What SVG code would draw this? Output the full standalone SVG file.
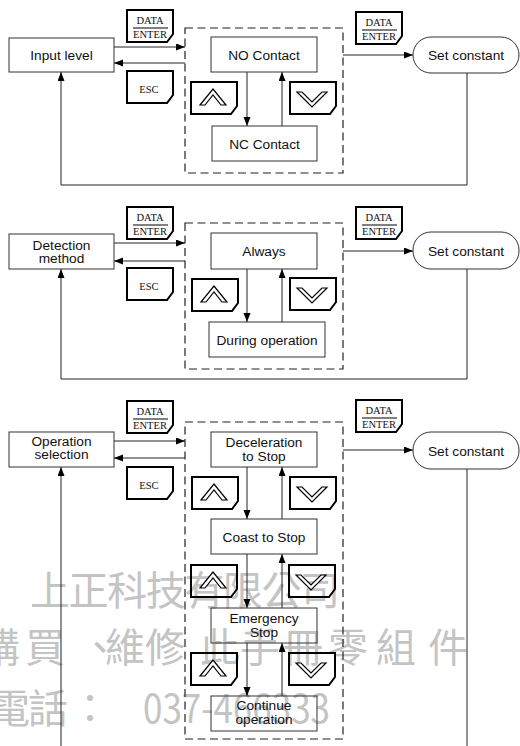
<svg xmlns="http://www.w3.org/2000/svg" xmlns:xlink="http://www.w3.org/1999/xlink" width="520" height="746" viewBox="0 0 520 746">
<style>
.box{fill:none;stroke:#333;stroke-width:1}
.dash{fill:none;stroke:#222;stroke-width:1.2;stroke-dasharray:8 4.5}
.key{fill:none;stroke:#000;stroke-width:2;stroke-linejoin:miter}
.chev{fill:#fff;stroke:#000;stroke-width:1.2;stroke-linejoin:miter}
.lbl{font-family:"Liberation Sans",Arial,sans-serif;font-size:13.7px;fill:#111;text-anchor:middle}
.kt{font-family:"Liberation Serif","Times New Roman",serif;font-size:10.5px;fill:#111;text-anchor:middle}
.conn{fill:none;stroke:#222;stroke-width:1}
.wm{font-family:"Noto Sans CJK TC","Noto Sans CJK SC",sans-serif;font-size:40px;fill:#c4c4c4}
</style>
<defs>
<marker id="ah" markerWidth="10" markerHeight="8" refX="9" refY="3.5" orient="auto" markerUnits="userSpaceOnUse">
<path d="M0,0L9,3.5L0,7Z" fill="#000"/>
</marker>
<path id="keyshape" d="M0,0H46V24L40,32H0Z"/>
<polygon id="upchev" points="9,23 22,7 35,23 30,23 22,13 14,23"/>
<polygon id="dnchev" points="7,10 22,25 37,10 32,10 22,20 12,10"/>
</defs>

<g id="watermark">
<text class="wm" x="30" y="605" textLength="310" lengthAdjust="spacing">上正科技有限公司</text>
<text class="wm" y="662"><tspan x="-20">購</tspan><tspan x="25">買</tspan><tspan x="80">、</tspan><tspan x="105">維</tspan><tspan x="145">修</tspan><tspan x="200">此</tspan><tspan x="240">手</tspan><tspan x="283">冊</tspan><tspan x="328">零</tspan><tspan x="376">組</tspan><tspan x="428">件</tspan></text>
<text class="wm" y="723"><tspan x="-10">電</tspan><tspan x="28">話</tspan><tspan x="70">：</tspan><tspan x="143" textLength="187" lengthAdjust="spacingAndGlyphs">037-466333</tspan></text>
</g>

<g id="connectors">
<!-- section 1 -->
<line class="conn" x1="114" y1="47" x2="185" y2="47" marker-end="url(#ah)"/>
<line class="conn" x1="185" y1="63" x2="114" y2="63" marker-end="url(#ah)"/>
<line class="conn" x1="247" y1="72" x2="247" y2="126" marker-end="url(#ah)"/>
<line class="conn" x1="282" y1="126" x2="282" y2="72" marker-end="url(#ah)"/>
<line class="conn" x1="343" y1="55" x2="413" y2="55" marker-end="url(#ah)"/>
<polyline class="conn" points="467,73 467,185 61,185 61,72" marker-end="url(#ah)"/>
<!-- section 2 -->
<line class="conn" x1="114" y1="243" x2="185" y2="243" marker-end="url(#ah)"/>
<line class="conn" x1="185" y1="261" x2="114" y2="261" marker-end="url(#ah)"/>
<line class="conn" x1="247" y1="269" x2="247" y2="322" marker-end="url(#ah)"/>
<line class="conn" x1="282" y1="322" x2="282" y2="269" marker-end="url(#ah)"/>
<line class="conn" x1="343" y1="251" x2="413" y2="251" marker-end="url(#ah)"/>
<polyline class="conn" points="467,269 467,379 61,379 61,269" marker-end="url(#ah)"/>
<!-- section 3 -->
<line class="conn" x1="114" y1="441" x2="185" y2="441" marker-end="url(#ah)"/>
<line class="conn" x1="185" y1="458" x2="114" y2="458" marker-end="url(#ah)"/>
<line class="conn" x1="247" y1="467" x2="247" y2="519" marker-end="url(#ah)"/>
<line class="conn" x1="282" y1="519" x2="282" y2="467" marker-end="url(#ah)"/>
<line class="conn" x1="247" y1="554" x2="247" y2="608" marker-end="url(#ah)"/>
<line class="conn" x1="282" y1="608" x2="282" y2="554" marker-end="url(#ah)"/>
<line class="conn" x1="247" y1="643" x2="247" y2="696" marker-end="url(#ah)"/>
<line class="conn" x1="282" y1="696" x2="282" y2="643" marker-end="url(#ah)"/>
<line class="conn" x1="343" y1="450" x2="413" y2="450" marker-end="url(#ah)"/>
<line class="conn" x1="467" y1="469" x2="467" y2="746"/>
<line class="conn" x1="61" y1="746" x2="61" y2="467" marker-end="url(#ah)"/>
</g>

<!-- ===== Section 1 ===== -->
<g id="input-level"><rect class="box" x="9" y="38" width="105" height="34"/><text class="lbl" x="61.5" y="60">Input level</text></g>
<g id="group1"><rect class="dash" x="185" y="28" width="158" height="145"/></g>
<g id="no-contact"><rect class="box" x="211" y="37" width="106" height="35"/><text class="lbl" x="264" y="59.5">NO Contact</text></g>
<g id="nc-contact"><rect class="box" x="212" y="126" width="105" height="35"/><text class="lbl" x="264.5" y="148.5">NC Contact</text></g>
<g id="set-constant-1"><rect class="box" x="413" y="37" width="106" height="36" rx="18" ry="18"/><text class="lbl" x="466" y="60">Set constant</text></g>
<g id="key-data-1a"><use href="#keyshape" class="key" x="127" y="10"/><text class="kt" x="150" y="24">DATA</text><line x1="133" y1="28" x2="168" y2="28" stroke="#000" stroke-width="1"/><text class="kt" x="150" y="38">ENTER</text></g>
<g id="key-esc-1"><use href="#keyshape" class="key" x="127" y="71"/><text class="kt" x="149" y="93">ESC</text></g>
<g id="key-up-1"><use href="#keyshape" class="key" x="191" y="82"/><use href="#upchev" class="chev" x="191" y="82"/></g>
<g id="key-down-1"><use href="#keyshape" class="key" x="290" y="82"/><use href="#dnchev" class="chev" x="290" y="82"/></g>
<g id="key-data-1b"><use href="#keyshape" class="key" x="356" y="12"/><text class="kt" x="379" y="26">DATA</text><line x1="362" y1="30" x2="397" y2="30" stroke="#000" stroke-width="1"/><text class="kt" x="379" y="40">ENTER</text></g>

<!-- ===== Section 2 ===== -->
<g id="detection-method"><rect class="box" x="9" y="234" width="105" height="35"/><text class="lbl" x="61.5" y="250">Detection</text><text class="lbl" x="61.5" y="263">method</text></g>
<g id="group2"><rect class="dash" x="185" y="223" width="158" height="146"/></g>
<g id="always"><rect class="box" x="211" y="233" width="106" height="36"/><text class="lbl" x="264" y="256">Always</text></g>
<g id="during-operation"><rect class="box" x="209" y="322" width="116" height="35"/><text class="lbl" x="267" y="344.5">During operation</text></g>
<g id="set-constant-2"><rect class="box" x="413" y="232" width="106" height="37" rx="18" ry="18"/><text class="lbl" x="466" y="255.5">Set constant</text></g>
<g id="key-data-2a"><use href="#keyshape" class="key" x="127" y="207"/><text class="kt" x="150" y="221">DATA</text><line x1="133" y1="225" x2="168" y2="225" stroke="#000" stroke-width="1"/><text class="kt" x="150" y="235">ENTER</text></g>
<g id="key-esc-2"><use href="#keyshape" class="key" x="127" y="268"/><text class="kt" x="149" y="290">ESC</text></g>
<g id="key-up-2"><use href="#keyshape" class="key" x="192" y="279"/><use href="#upchev" class="chev" x="192" y="279"/></g>
<g id="key-down-2"><use href="#keyshape" class="key" x="290" y="278"/><use href="#dnchev" class="chev" x="290" y="278"/></g>
<g id="key-data-2b"><use href="#keyshape" class="key" x="356" y="207"/><text class="kt" x="379" y="221">DATA</text><line x1="362" y1="225" x2="397" y2="225" stroke="#000" stroke-width="1"/><text class="kt" x="379" y="235">ENTER</text></g>

<!-- ===== Section 3 ===== -->
<g id="operation-selection"><rect class="box" x="9" y="432" width="105" height="35"/><text class="lbl" x="61.5" y="446">Operation</text><text class="lbl" x="61.5" y="459">selection</text></g>
<g id="group3"><rect class="dash" x="185" y="422" width="158" height="317"/></g>
<g id="deceleration"><rect class="box" x="211" y="432" width="106" height="35"/><text class="lbl" x="264" y="447">Deceleration</text><text class="lbl" x="264" y="460.5">to Stop</text></g>
<g id="coast-to-stop"><rect class="box" x="211" y="519" width="106" height="35"/><text class="lbl" x="264" y="541.5">Coast to Stop</text></g>
<g id="emergency-stop"><rect class="box" x="211" y="608" width="106" height="35"/><text class="lbl" x="264" y="623">Emergency</text><text class="lbl" x="264" y="637">Stop</text></g>
<g id="continue-operation"><rect class="box" x="211" y="696" width="106" height="35"/><text class="lbl" x="264" y="710">Continue</text><text class="lbl" x="264" y="724">operation</text></g>
<g id="set-constant-3"><rect class="box" x="413" y="432" width="106" height="37" rx="18" ry="18"/><text class="lbl" x="466" y="455.5">Set constant</text></g>
<g id="key-data-3a"><use href="#keyshape" class="key" x="127" y="401"/><text class="kt" x="150" y="415">DATA</text><line x1="133" y1="419" x2="168" y2="419" stroke="#000" stroke-width="1"/><text class="kt" x="150" y="429">ENTER</text></g>
<g id="key-esc-3"><use href="#keyshape" class="key" x="127" y="467"/><text class="kt" x="149" y="489">ESC</text></g>
<g id="key-up-3a"><use href="#keyshape" class="key" x="192" y="477"/><use href="#upchev" class="chev" x="192" y="477"/></g>
<g id="key-down-3a"><use href="#keyshape" class="key" x="290" y="477"/><use href="#dnchev" class="chev" x="290" y="477"/></g>
<g id="key-up-3b"><use href="#keyshape" class="key" x="191" y="565"/><use href="#upchev" class="chev" x="191" y="565"/></g>
<g id="key-down-3b"><use href="#keyshape" class="key" x="289" y="565"/><use href="#dnchev" class="chev" x="289" y="565"/></g>
<g id="key-up-3c"><use href="#keyshape" class="key" x="191" y="653"/><use href="#upchev" class="chev" x="191" y="653"/></g>
<g id="key-down-3c"><use href="#keyshape" class="key" x="289" y="653"/><use href="#dnchev" class="chev" x="289" y="653"/></g>
<g id="key-data-3b"><use href="#keyshape" class="key" x="356" y="400"/><text class="kt" x="379" y="414">DATA</text><line x1="362" y1="418" x2="397" y2="418" stroke="#000" stroke-width="1"/><text class="kt" x="379" y="428">ENTER</text></g>
</svg>
